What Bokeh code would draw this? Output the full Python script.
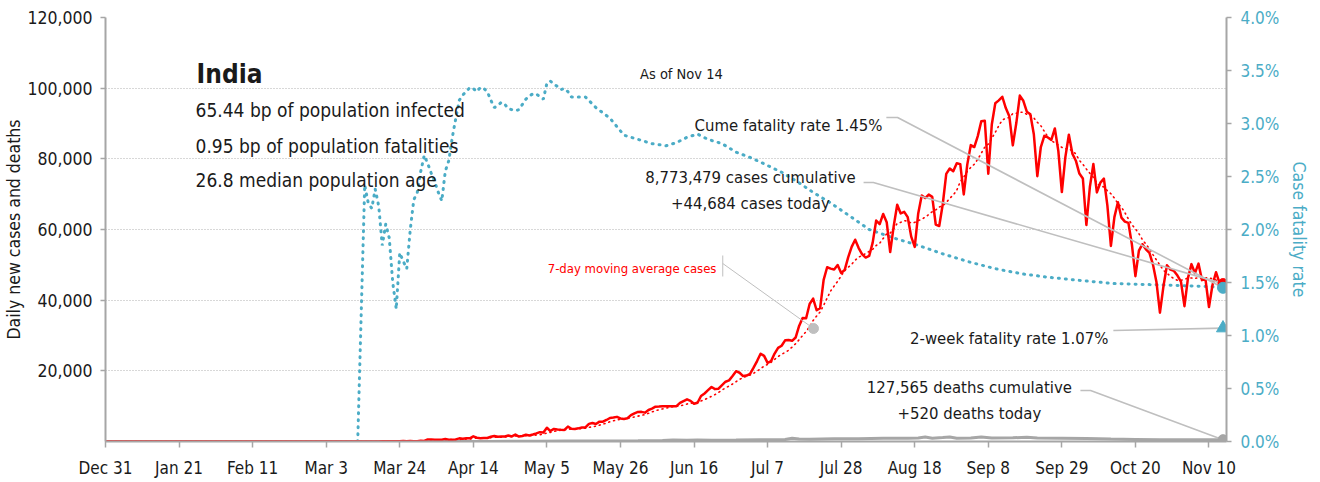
import pandas as pd
from bokeh.plotting import figure
from bokeh.models import Range1d, LinearAxis, FixedTicker, PrintfTickFormatter, NumeralTickFormatter, Label
from bokeh.embed import file_html
from bokeh.resources import INLINE

# ---------------- data ----------------
START = "2019-12-31"
tick_days = [0, 21, 42, 63, 84, 105, 126, 147, 168, 189, 210, 231, 252, 273, 294, 315]
tick_labels = ["Dec 31", "Jan 21", "Feb 11", "Mar 3", "Mar 24", "Apr 14", "May 5", "May 26",
               "Jun 16", "Jul 7", "Jul 28", "Aug 18", "Sep 8", "Sep 29", "Oct 20", "Nov 10"]

early_case_dates = ["2020-01-30", "2020-02-02", "2020-02-03"]
early_case_values = [1, 1, 1]
cases_mar = [0, 2, 1, 22, 2, 1, 3, 5, 9, 15, 8, 10, 10, 19, 12, 11, 23, 14, 38, 50, 86, 66, 103, 37,
             121, 70, 160, 100, 82, 227, 146]
cases_apr = [601, 545, 478, 525, 505, 704, 508, 485, 591, 896, 768, 918, 905, 1463, 1076, 941, 1007,
             991, 1334, 1553, 1336, 1383, 1409, 1684, 1429, 1990, 1396, 1543, 1897, 1718]
cases_may = [1993, 2293, 2644, 2553, 3900, 2958, 3561, 3390, 3320, 3277, 4213, 3604, 3525, 3722, 3967,
             3970, 4987, 5242, 4970, 5611, 5609, 6088, 6654, 6767, 6977, 6535, 6387, 6566, 7466, 7964, 8380]
cases_jun = [8392, 8171, 8909, 9304, 9851, 9887, 9971, 9983, 9987, 9985, 9996, 10956, 11458, 11929,
             11502, 10667, 10974, 12881, 13586, 14516, 15413, 14821, 14933, 15968, 16922, 17296, 18552,
             19906, 19459, 18522]
cases_jul = [18653, 19148, 20903, 22771, 24850, 24248, 22252, 22752, 24879, 26506, 27114, 28637, 28701,
             28498, 29429, 32695, 34956, 34884, 38902, 40425, 37148, 37724, 45720, 49310, 48916, 48661,
             49931, 47703, 48513, 52123, 55079]
cases_aug = [57118, 54736, 52972, 52050, 52509, 56282, 62538, 61537, 64399, 62064, 53601, 60963, 66999,
             64553, 65002, 63490, 57981, 55079, 64531, 69652, 68898, 69878, 69239, 61408, 60975, 67151,
             75760, 77266, 76472, 78761, 78512]
cases_sep = [69921, 78357, 83883, 83341, 86432, 90632, 90802, 75809, 89706, 95735, 96551, 97570, 94372,
             92071, 83809, 90123, 97894, 96424, 93337, 92605, 86961, 75083, 83347, 86508, 86052, 85362,
             88600, 82170, 70589, 80472]
cases_oct = [86821, 81484, 79476, 75829, 74442, 61267, 72049, 78524, 70496, 73272, 74383, 66732, 55342,
             63509, 67708, 63371, 62212, 61871, 55722, 46790, 54044, 55838, 54366, 53370, 50129, 45149,
             36470, 43893, 49881, 48648, 48268]
cases_nov = [46963, 45231, 38310, 46253, 50209, 47638, 50356, 45674, 45903, 38073, 44281, 47905, 44879,
             44684]
case_month_starts = ["2020-03-01", "2020-04-01", "2020-05-01", "2020-06-01", "2020-07-01",
                     "2020-08-01", "2020-09-01", "2020-10-01", "2020-11-01"]

death_dates = ["2019-12-31", "2020-03-12", "2020-03-22", "2020-03-29", "2020-04-05", "2020-04-12",
               "2020-04-19", "2020-04-26", "2020-05-03", "2020-05-10", "2020-05-17", "2020-05-24",
               "2020-05-31", "2020-06-07", "2020-06-10", "2020-06-14", "2020-06-17", "2020-06-21",
               "2020-06-28", "2020-07-05", "2020-07-12", "2020-07-14", "2020-07-16", "2020-07-19",
               "2020-07-26", "2020-08-02", "2020-08-09", "2020-08-16", "2020-08-19", "2020-08-21",
               "2020-08-23", "2020-08-26", "2020-08-28", "2020-08-30", "2020-09-03", "2020-09-06",
               "2020-09-09", "2020-09-15", "2020-09-19", "2020-09-22", "2020-09-29", "2020-10-06",
               "2020-10-13", "2020-10-20", "2020-10-27", "2020-11-03", "2020-11-10", "2020-11-14"]
death_values = [0, 0, 3, 5, 20, 35, 35, 50, 80, 110, 120, 140, 200, 270, 420, 330, 450, 320, 400, 520,
                550, 900, 700, 650, 750, 800, 900, 950, 980, 1250, 950, 1100, 1250, 950, 1000, 1250,
                1000, 1050, 1200, 1000, 950, 850, 700, 600, 500, 480, 500, 520]

cfr_dates = ["2019-12-31", "2020-03-12", "2020-03-14", "2020-03-15", "2020-03-16", "2020-03-17",
             "2020-03-18", "2020-03-19", "2020-03-20", "2020-03-21", "2020-03-22", "2020-03-23",
             "2020-03-24", "2020-03-25", "2020-03-26", "2020-03-27", "2020-03-28", "2020-03-29",
             "2020-03-30", "2020-03-31", "2020-04-01", "2020-04-02", "2020-04-03", "2020-04-04",
             "2020-04-05", "2020-04-06", "2020-04-07", "2020-04-08", "2020-04-09", "2020-04-10",
             "2020-04-11", "2020-04-12", "2020-04-13", "2020-04-14", "2020-04-15", "2020-04-16",
             "2020-04-17", "2020-04-18", "2020-04-19", "2020-04-20", "2020-04-21", "2020-04-22",
             "2020-04-23", "2020-04-24", "2020-04-25", "2020-04-26", "2020-04-27", "2020-04-28",
             "2020-04-29", "2020-04-30", "2020-05-01", "2020-05-02", "2020-05-03", "2020-05-04",
             "2020-05-05", "2020-05-06", "2020-05-07", "2020-05-08", "2020-05-09", "2020-05-10",
             "2020-05-11", "2020-05-12", "2020-05-16", "2020-05-19", "2020-05-23", "2020-05-27",
             "2020-05-30", "2020-06-04", "2020-06-08", "2020-06-11", "2020-06-14", "2020-06-17",
             "2020-06-20", "2020-06-24", "2020-06-28", "2020-07-02", "2020-07-06", "2020-07-11",
             "2020-07-16", "2020-07-20", "2020-07-25", "2020-07-29", "2020-08-05", "2020-08-12",
             "2020-08-19", "2020-08-26", "2020-09-03", "2020-09-10", "2020-09-18", "2020-09-25",
             "2020-10-04", "2020-10-14", "2020-10-24", "2020-11-03", "2020-11-11", "2020-11-14"]
cfr_values = [0, 0, 2.42, 2.25, 2.20, 2.38, 2.22, 1.85, 2.05, 1.92, 1.50, 1.25,
              1.78, 1.70, 1.63, 2.00, 2.28, 2.35, 2.55, 2.70, 2.62, 2.53, 2.45, 2.35,
              2.27, 2.55, 2.65, 2.87, 3.05, 3.22, 3.27, 3.30, 3.34, 3.33, 3.30, 3.34,
              3.33, 3.30, 3.22, 3.15, 3.17, 3.20, 3.18, 3.14, 3.13, 3.12, 3.13, 3.18,
              3.23, 3.26, 3.28, 3.28, 3.25, 3.23, 3.38, 3.40, 3.37, 3.35, 3.32, 3.33,
              3.30, 3.25, 3.25, 3.15, 3.05, 2.89, 2.86, 2.81, 2.79, 2.82, 2.87, 2.90,
              2.85, 2.81, 2.73, 2.68, 2.62, 2.54, 2.44, 2.35, 2.25, 2.16, 2.00, 1.92,
              1.85, 1.77, 1.69, 1.63, 1.58, 1.55, 1.52, 1.49, 1.48, 1.47, 1.46, 1.45]
two_week_cfr = 1.07

title = "India"
stats_lines = ["65.44 bp of population infected", "0.95 bp of population fatalities",
               "26.8 median population age"]
as_of = "As of Nov 14"
cume_cfr_text = "Cume fatality rate 1.45%"
cases_text = ["8,773,479 cases cumulative", "+44,684 cases today"]
deaths_text = ["127,565 deaths cumulative", "+520 deaths today"]
two_week_text = "2-week fatality rate 1.07%"
ma_text = "7-day moving average cases"

# ---------------- derived series ----------------
start = pd.Timestamp(START)


def to_days(dates):
    return ((pd.to_datetime(pd.Index(dates)) - start) / pd.Timedelta(days=1)).to_numpy()


all_days = pd.date_range(START, "2020-11-14")
case_series = pd.Series(0.0, index=all_days)
case_series[pd.to_datetime(early_case_dates)] = early_case_values
for ms, part in zip(case_month_starts, [cases_mar, cases_apr, cases_may, cases_jun, cases_jul,
                                        cases_aug, cases_sep, cases_oct, cases_nov]):
    case_series[pd.date_range(ms, periods=len(part))] = part
ma_series = case_series.rolling(7, min_periods=1).mean()
case_x = to_days(all_days)
death_x = to_days(death_dates)
cfr_x = to_days(cfr_dates)
last_x = case_x[-1]

# ---------------- figure ----------------
FONT = "DejaVu Sans Condensed"
RED = "#FF0000"
TEAL = "#4BACC6"
AXIS_GRAY = "#A6A6A6"
LEADER = "#BFBFBF"
INK = "#1a1a1a"
YMAX = 120000
CFR_MAX = 4.0
scale = YMAX / CFR_MAX

p = figure(width=1320, height=482, x_range=Range1d(0, 320), y_range=Range1d(0, YMAX),
           output_backend="svg", toolbar_location=None,
           min_border_left=105, min_border_right=94, min_border_top=17, min_border_bottom=41)
p.extra_y_ranges = {"cfr": Range1d(0, CFR_MAX)}
p.outline_line_color = None
p.background_fill_color = "white"
p.border_fill_color = "white"

p.xgrid.visible = False
p.ygrid.grid_line_color = "#B0B0B0"
p.ygrid.grid_line_dash = "1 2"
p.ygrid.grid_line_width = 1

p.xaxis.ticker = FixedTicker(ticks=tick_days)
p.xaxis.major_label_overrides = {d: t for d, t in zip(tick_days, tick_labels)}
p.yaxis.ticker = FixedTicker(ticks=[20000, 40000, 60000, 80000, 100000, 120000])
p.yaxis.formatter = NumeralTickFormatter(format="0,0")
p.yaxis.axis_label = "Daily new cases and deaths"

for ax in (p.xaxis[0], p.yaxis[0]):
    ax.axis_line_color = AXIS_GRAY
    ax.axis_line_width = 2
    ax.major_tick_line_color = AXIS_GRAY
    ax.major_tick_line_width = 1.5
    ax.major_tick_in = 0
    ax.minor_tick_line_color = None
    ax.major_label_text_font = FONT
    ax.major_label_text_color = INK
    ax.axis_label_text_font = FONT
    ax.axis_label_text_font_style = "normal"
    ax.axis_label_text_color = INK
p.xaxis.major_tick_out = 6
p.xaxis.major_label_standoff = 10
p.xaxis.major_label_text_font_size = "17px"
p.yaxis.major_tick_out = 5
p.yaxis.major_label_standoff = 8
p.yaxis.major_label_text_font_size = "17.5px"
p.yaxis.axis_label_text_font_size = "17.5px"
p.yaxis.axis_label_standoff = 0

rax = LinearAxis(y_range_name="cfr", ticker=FixedTicker(ticks=[0, 0.5, 1, 1.5, 2, 2.5, 3, 3.5, 4]),
                 formatter=PrintfTickFormatter(format="%.1f%%"), axis_label="Case fatality rate")
rax.axis_line_color = AXIS_GRAY
rax.axis_line_width = 2
rax.major_tick_line_color = AXIS_GRAY
rax.major_tick_line_width = 1.5
rax.major_tick_in = 0
rax.major_tick_out = 5
rax.minor_tick_line_color = None
rax.major_label_standoff = 9
rax.major_label_text_font = FONT
rax.major_label_text_font_size = "17px"
rax.major_label_text_color = TEAL
rax.axis_label_text_font = FONT
rax.axis_label_text_font_size = "17.5px"
rax.axis_label_text_font_style = "normal"
rax.axis_label_text_color = TEAL
rax.axis_label_standoff = 7
p.add_layout(rax, "right")

# series
p.line(cfr_x, cfr_values, y_range_name="cfr", color=TEAL, line_width=3, line_dash="1 6",
       line_cap="round")
p.line(death_x, death_values, color=AXIS_GRAY, line_width=3)
p.line(case_x, ma_series.values, color=RED, line_width=1.6, line_dash="1 4", line_cap="round")
p.line(case_x, case_series.values, color=RED, line_width=2.5, line_join="round")

# leader lines (annotation layout, in data units)
last_cases = case_series.values[-1]
last_cfr_y = cfr_values[-1] * scale
p.line([222.9, 226.1, last_x], [91700, 91700, last_cfr_y], color=LEADER, line_width=1.6)
p.line([216.4, 219.2, last_x], [73300, 73300, last_cases], color=LEADER, line_width=1.6)
p.line([287.7, last_x], [31400, two_week_cfr * scale], color=LEADER, line_width=1.6)
p.line([278.3, 281.2, last_x], [14430, 14430, death_values[-1]], color=LEADER, line_width=1.6)
p.line([176.2, 176.2], [52640, 46700], color=LEADER, line_width=1)
p.line([176.2, 202.1], [50380, 31980], color=LEADER, line_width=1)
p.scatter([202.1], [31980], size=10, color=LEADER, marker="circle")

# end markers
p.scatter([last_x], [last_cases], size=10, color=RED, marker="circle")
p.scatter([last_x], [cfr_values[-1]], y_range_name="cfr", size=11, color=TEAL, marker="circle")
p.scatter([last_x], [two_week_cfr], y_range_name="cfr", size=13, color=TEAL, marker="triangle")
p.scatter([last_x], [death_values[-1]], size=10, color=AXIS_GRAY, marker="circle")


def add_label(x, y, text, size, align="left", color=INK, style="normal"):
    p.add_layout(Label(x=x, y=y, text=text, text_font=FONT, text_font_size=size,
                       text_align=align, text_baseline="alphabetic", text_color=color,
                       text_font_style=style))


add_label(26.0, 104150, title, "26px", style="bold")
for yy, line in zip([93680, 83770, 73870], stats_lines):
    add_label(25.7, yy, line, "19px")
add_label(164.4, 104150, as_of, "14.5px", align="center")
add_label(221.8, 89430, cume_cfr_text, "16.6px", align="right")
add_label(184.1, 74720, cases_text[0], "16.6px", align="center")
add_label(184.1, 67360, cases_text[1], "16.6px", align="center")
add_label(174.4, 48960, ma_text, "13px", align="right", color=RED)
add_label(286.3, 29150, two_week_text, "16.6px", align="right")
add_label(246.6, 15280, deaths_text[0], "16.6px", align="center")
add_label(246.6, 7920, deaths_text[1], "16.6px", align="center")

open("out.html", "w").write(file_html(p, INLINE))
